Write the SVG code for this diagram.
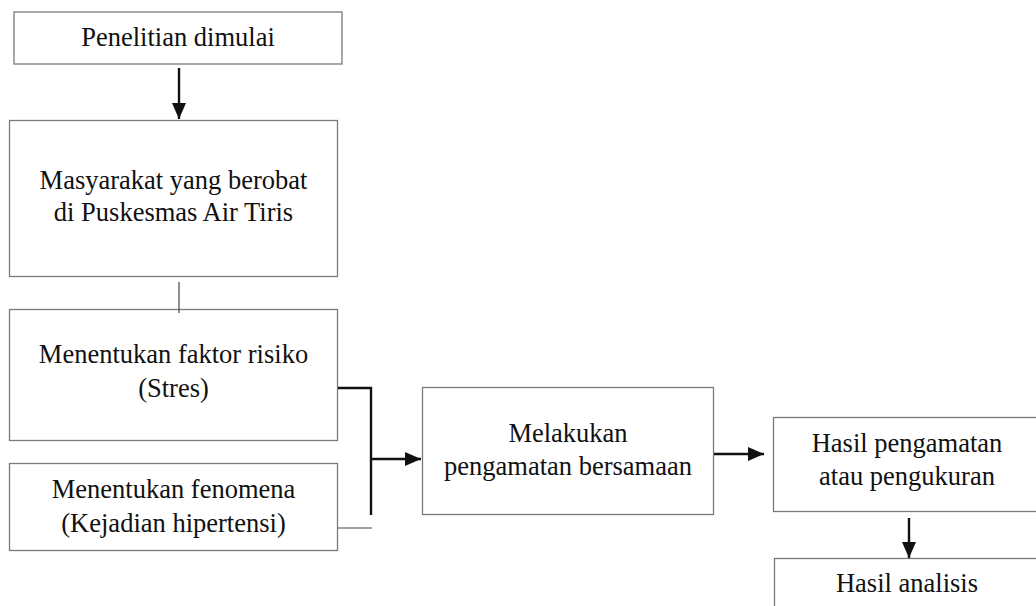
<svg xmlns="http://www.w3.org/2000/svg" width="1036" height="606" viewBox="0 0 1036 606">
<style>
.box{fill:#fff;stroke:#7a7a7a;stroke-width:1.3}
.t{font-family:"Liberation Serif","Times New Roman",serif;font-size:26.5px;fill:#111;text-anchor:middle}
.c{fill:none;stroke:#111;stroke-width:2.4}
.thin{fill:none;stroke:#444;stroke-width:1.2}
</style>
<defs>
<marker id="ah" viewBox="0 0 16 14" refX="16" refY="7" markerWidth="16" markerHeight="14" markerUnits="userSpaceOnUse" orient="auto">
<path d="M0,0 L16,7 L0,14 Z" fill="#111"/>
</marker>
</defs>
<rect width="1036" height="606" fill="#fff"/>
<g id="n1"><rect class="box" x="14" y="12" width="328" height="52"/><text class="t" x="178" y="46">Penelitian dimulai</text></g>
<g id="n2"><rect class="box" x="9.5" y="120.5" width="328" height="156"/><text class="t" x="173.5" y="189">Masyarakat yang berobat</text><text class="t" x="173.5" y="221">di Puskesmas Air Tiris</text></g>
<g id="n3"><rect class="box" x="9.5" y="309.5" width="328" height="131"/><text class="t" x="173.5" y="363">Menentukan faktor risiko</text><text class="t" x="173.5" y="397">(Stres)</text></g>
<g id="n4"><rect class="box" x="9.5" y="463.5" width="328" height="87"/><text class="t" x="173.5" y="498">Menentukan fenomena</text><text class="t" x="173.5" y="532">(Kejadian hipertensi)</text></g>
<g id="n5"><rect class="box" x="422.5" y="387.5" width="291" height="127"/><text class="t" x="568" y="442">Melakukan</text><text class="t" x="568" y="475">pengamatan bersamaan</text></g>
<g id="n6"><rect class="box" x="773.5" y="417.5" width="270" height="94"/><text class="t" x="907" y="452">Hasil pengamatan</text><text class="t" x="907" y="485">atau pengukuran</text></g>
<g id="n7"><rect class="box" x="774.5" y="558.5" width="270" height="60"/><text class="t" x="907" y="592">Hasil analisis</text></g>
<g id="connectors">
<line class="c" x1="179" y1="68" x2="179" y2="119" marker-end="url(#ah)"/>
<line class="thin" x1="179" y1="282" x2="179" y2="313"/>
<polyline class="c" points="338,388 371,388 371,515"/>
<line class="thin" x1="338" y1="528" x2="372" y2="528"/>
<line class="c" x1="371" y1="459" x2="421" y2="459" marker-end="url(#ah)"/>
<line class="c" x1="714" y1="454" x2="764" y2="454" marker-end="url(#ah)"/>
<line class="c" x1="909" y1="518" x2="909" y2="558" marker-end="url(#ah)"/>
</g>
</svg>
